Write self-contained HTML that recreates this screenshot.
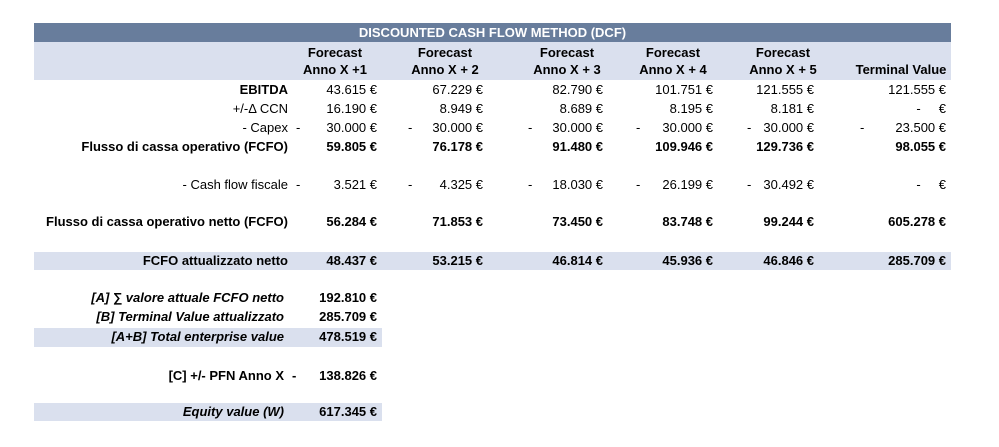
<!DOCTYPE html>
<html><head><meta charset="utf-8">
<style>
body{margin:0;width:999px;height:447px;background:#fff;position:relative;overflow:hidden;font-family:"Liberation Sans",sans-serif;font-size:13px;color:#000}
.a{position:absolute;white-space:pre;line-height:15px}
.r{text-align:right}
.b{font-weight:bold}
.i{font-style:italic}
.band{position:absolute;background:#dae0ee}
</style></head><body>
<div class="band" style="left:34px;top:23px;width:917px;height:19px;background:#687d9c"></div>
<div class="a b" style="left:34px;top:25px;width:917px;text-align:center;color:#fff">DISCOUNTED CASH FLOW METHOD (DCF)</div>
<div class="band" style="left:34px;top:42px;width:917px;height:38px"></div>
<div class="band" style="left:34px;top:252px;width:917px;height:18px"></div>
<div class="band" style="left:34px;top:328px;width:348px;height:19px"></div>
<div class="band" style="left:34px;top:403px;width:348px;height:18px"></div>
<div id="t"></div>
<script>
const headers=[["Forecast","Anno X +1"],["Forecast","Anno X + 2"],["Forecast","Anno X + 3"],["Forecast","Anno X + 4"],["Forecast","Anno X + 5"],["","Terminal Value"]];
const hc=[335,445,567,673,783,901];
const vr=[377,483,603,713,814,946];
const dx=[296,408,528,636,747,860];
const rows=[
 ["EBITDA",90,true,["43.615 €","67.229 €","82.790 €","101.751 €","121.555 €","121.555 €"],[0,0,0,0,0,0]],
 ["+/-Δ CCN",109,false,["16.190 €","8.949 €","8.689 €","8.195 €","8.181 €","-     €"],[0,0,0,0,0,0]],
 ["- Capex",128,false,["30.000 €","30.000 €","30.000 €","30.000 €","30.000 €","23.500 €"],[1,1,1,1,1,1]],
 ["Flusso di cassa operativo (FCFO)",147,true,["59.805 €","76.178 €","91.480 €","109.946 €","129.736 €","98.055 €"],[0,0,0,0,0,0],true],
 ["- Cash flow fiscale",185,false,["3.521 €","4.325 €","18.030 €","26.199 €","30.492 €","-     €"],[1,1,1,1,1,0]],
 ["Flusso di cassa operativo netto (FCFO)",222,true,["56.284 €","71.853 €","73.450 €","83.748 €","99.244 €","605.278 €"],[0,0,0,0,0,0],true],
 ["FCFO attualizzato netto",261,true,["48.437 €","53.215 €","46.814 €","45.936 €","46.846 €","285.709 €"],[0,0,0,0,0,0],true]
];
const summary=[["[A] ∑ valore attuale FCFO netto",298,"192.810 €",true],["[B] Terminal Value attualizzato",317,"285.709 €",true],["[A+B] Total enterprise value",337,"478.519 €",true],["[C] +/- PFN Anno X",376,"138.826 €",false],["Equity value (W)",412,"617.345 €",true]];
const t=document.getElementById('t');
function mk(cls,txt,st){const d=document.createElement('div');d.className='a '+cls;d.textContent=txt;d.style.cssText=st;t.appendChild(d);return d;}
headers.forEach((h,i)=>{
 if(h[0]){const e=mk('b',h[0],`left:${hc[i]-55}px;width:110px;text-align:center;top:45px`);
 
 }
 const e2=mk('b',h[1],`left:${hc[i]-55}px;width:110px;text-align:center;top:62px`);
 
 
});
rows.forEach(r=>{
 const y=r[1]-8;
 const l=mk('r'+(r[2]?' b':''),r[0],`left:20px;width:268px;top:${y}px`);
 
 
 r[3].forEach((v,i)=>{
  const c=mk('r'+(r[5]?' b':''),v,`left:${vr[i]-90}px;width:90px;top:${y}px`);
  
  
  if(r[4][i]){const m=mk('','-',`left:${dx[i]}px;top:${y}px`);
  
  }
 });
});
summary.forEach(s=>{
 const y=s[1]-8;
 const l=mk('r'+(s[3]?' b i':' b'),s[0],`left:20px;width:264px;top:${y}px`);
 
 
 const v=mk('r b',s[2],`left:287px;width:90px;top:${y}px`);
 
 
 if(!s[3]){const m=mk('b','-',`left:292px;top:${y}px`);
 
 }
});
</script>
</body></html>
